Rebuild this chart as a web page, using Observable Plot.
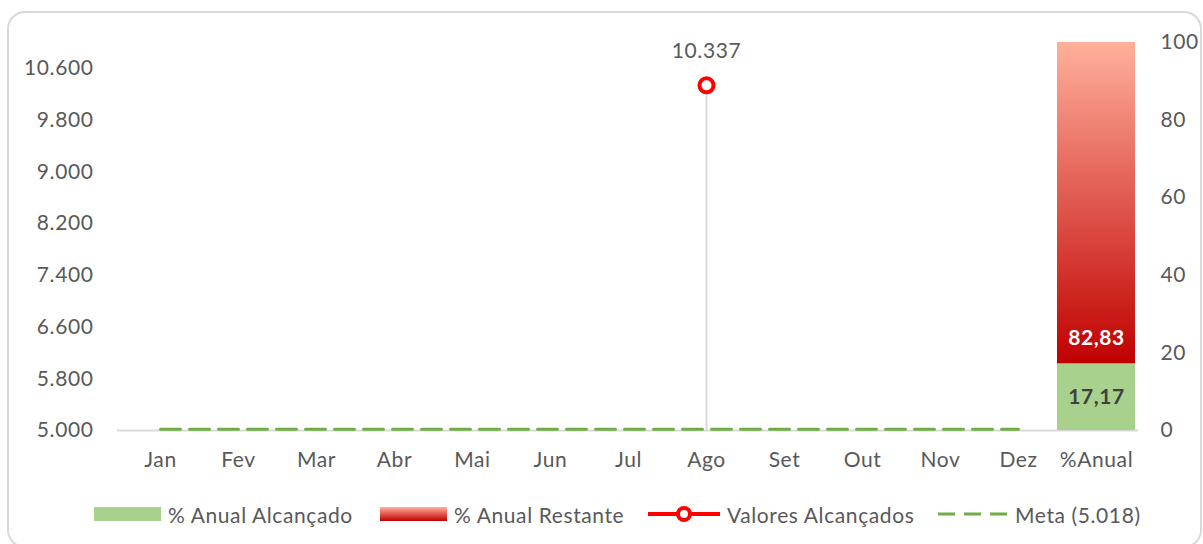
<!DOCTYPE html>
<html><head><meta charset="utf-8">
<script src="https://cdn.jsdelivr.net/npm/d3@7"></script>
<script src="https://cdn.jsdelivr.net/npm/@observablehq/plot@0.6"></script>
<style>
body{margin:0;background:#fff;font-family:Lato,"Open Sans",sans-serif;}
#wrap{position:relative;width:1203px;height:544px;overflow:hidden;background:#fff;}
#frame{position:absolute;left:7px;top:11px;width:1195px;height:537px;border:2px solid #d9d9d9;border-radius:18px;box-sizing:border-box;}
#chart{position:absolute;left:0;top:0;}
.lg{position:absolute;top:501px;height:26px;display:flex;align-items:center;font-size:21px;letter-spacing:0.6px;color:#595959;white-space:nowrap;}
.lg svg{margin-right:7px;}
</style></head>
<body>
<div id="wrap">
  <div id="frame"></div>
  <div id="chart"></div>
  <div id="legend"></div>
</div>
<script>
// ---- data ----
const months = ["Jan","Fev","Mar","Abr","Mai","Jun","Jul","Ago","Set","Out","Nov","Dez"];
const annualLabel = "%Anual";
const realizado = [null,null,null,null,null,null,null,10337,null,null,null,null];
const meta = 5018;
const pctAlcancado = 17.17;
const pctRestante = 82.83;
const leftTicks = [5000,5800,6600,7400,8200,9000,9800,10600];
const rightTicks = [0,20,40,60,80,100];
const leftDomain = [5000, 11000];
const legendLabels = ["% Anual Alcançado","% Anual Restante","Valores Alcançados","Meta (5.018)"];

// ---- helpers ----
const categories = [...months, annualLabel];
const toLeft = r => leftDomain[0] + r * (leftDomain[1] - leftDomain[0]) / 100;
const fromLeft = v => (v - leftDomain[0]) * 100 / (leftDomain[1] - leftDomain[0]);
const ptLocale = d3.formatLocale({decimal: ",", thousands: ".", grouping: [3], currency: ["R$", ""]});
const fmtInt = ptLocale.format(",.0f");
const fmtPct = ptLocale.format(".2f");

const points = months.map((m, i) => ({m, v: realizado[i]})).filter(d => d.v != null);
const metaData = months.map(m => ({m, v: meta}));
const barsData = [
  {c: annualLabel, y1: toLeft(0), y2: toLeft(pctAlcancado), label: fmtPct(pctAlcancado), kind: "a"},
  {c: annualLabel, y1: toLeft(pctAlcancado), y2: toLeft(pctAlcancado + pctRestante), label: fmtPct(pctRestante), kind: "r"}
];

const defs = () => {
  const d = d3.create("svg:defs");
  const g = d.append("linearGradient").attr("id", "redGrad").attr("x1", 0).attr("y1", 0).attr("x2", 0).attr("y2", 1);
  g.append("stop").attr("offset", "0%").attr("stop-color", "#FFB09C");
  g.append("stop").attr("offset", "100%").attr("stop-color", "#C00000");
  return d.node();
};

const plot = Plot.plot({
  width: 1203,
  height: 490,
  marginTop: 42,
  marginBottom: 60,
  marginLeft: 117,
  marginRight: 65,
  style: {fontFamily: "Lato, 'Open Sans', sans-serif", fontSize: "21px", letterSpacing: "0.6px", color: "#595959", background: "transparent"},
  x: {domain: categories, padding: 0},
  y: {domain: leftDomain},
  marks: [
    defs,
    Plot.ruleY([leftDomain[0]], {stroke: "#d9d9d9", strokeWidth: 2}),
    Plot.barY(barsData.filter(d => d.kind === "a"), {x: "c", y1: "y1", y2: "y2", fill: "#A9D18E"}),
    Plot.barY(barsData.filter(d => d.kind === "r"), {x: "c", y1: "y1", y2: "y2", fill: "url(#redGrad)"}),
    Plot.text(barsData.filter(d => d.kind === "a"), {x: "c", y: d => (d.y1 + d.y2) / 2, text: "label", fill: "#404040", fontWeight: "bold", fontSize: 21}),
    Plot.text(barsData.filter(d => d.kind === "r"), {x: "c", y: "y1", dy: -26, text: "label", fill: "white", fontWeight: "bold", fontSize: 21}),
    Plot.ruleX(points, {x: "m", y1: leftDomain[0], y2: "v", stroke: "#d9d9d9", strokeWidth: 2}),
    Plot.lineY(metaData, {x: "m", y: "v", stroke: "#70AD47", strokeWidth: 3, strokeDasharray: "20,9"}),
    Plot.dot(points, {x: "m", y: "v", r: 7, stroke: "#FF0000", strokeWidth: 4, fill: "white"}),
    Plot.text(points, {x: "m", y: "v", text: d => fmtInt(d.v), dy: -34, fill: "#595959", fontSize: 21}),
    Plot.axisY(leftTicks, {anchor: "left", tickSize: 0, tickPadding: 24, tickFormat: d => fmtInt(d), label: null}),
    Plot.axisY(rightTicks.map(toLeft), {anchor: "right", tickSize: 0, tickPadding: 22, tickFormat: d => Math.round(fromLeft(d)), label: null}),
    Plot.axisX({tickSize: 0, tickPadding: 22, label: null})
  ]
});
document.getElementById("chart").append(plot);

// ---- legend ----
const legend = document.getElementById("legend");
const lefts = [94, 380, 648, 938];
const swatches = [
  `<svg width="67" height="16"><rect x="0" y="1" width="67" height="14" fill="#A9D18E"/></svg>`,
  `<svg width="67" height="16"><rect x="0" y="1" width="67" height="14" fill="url(#redGrad)"/></svg>`,
  `<svg width="72" height="20"><line x1="0" y1="10" x2="72" y2="10" stroke="#FF0000" stroke-width="4"/><circle cx="36" cy="10" r="6" fill="white" stroke="#FF0000" stroke-width="4"/></svg>`,
  `<svg width="70" height="16"><line x1="0" y1="8" x2="70" y2="8" stroke="#70AD47" stroke-width="3" stroke-dasharray="17,9"/></svg>`
];
legendLabels.forEach((t, i) => {
  const div = document.createElement("div");
  div.className = "lg";
  div.style.left = lefts[i] + "px";
  div.innerHTML = swatches[i] + `<span></span>`;
  div.querySelector("span").textContent = t;
  legend.append(div);
});
</script>
</body></html>
